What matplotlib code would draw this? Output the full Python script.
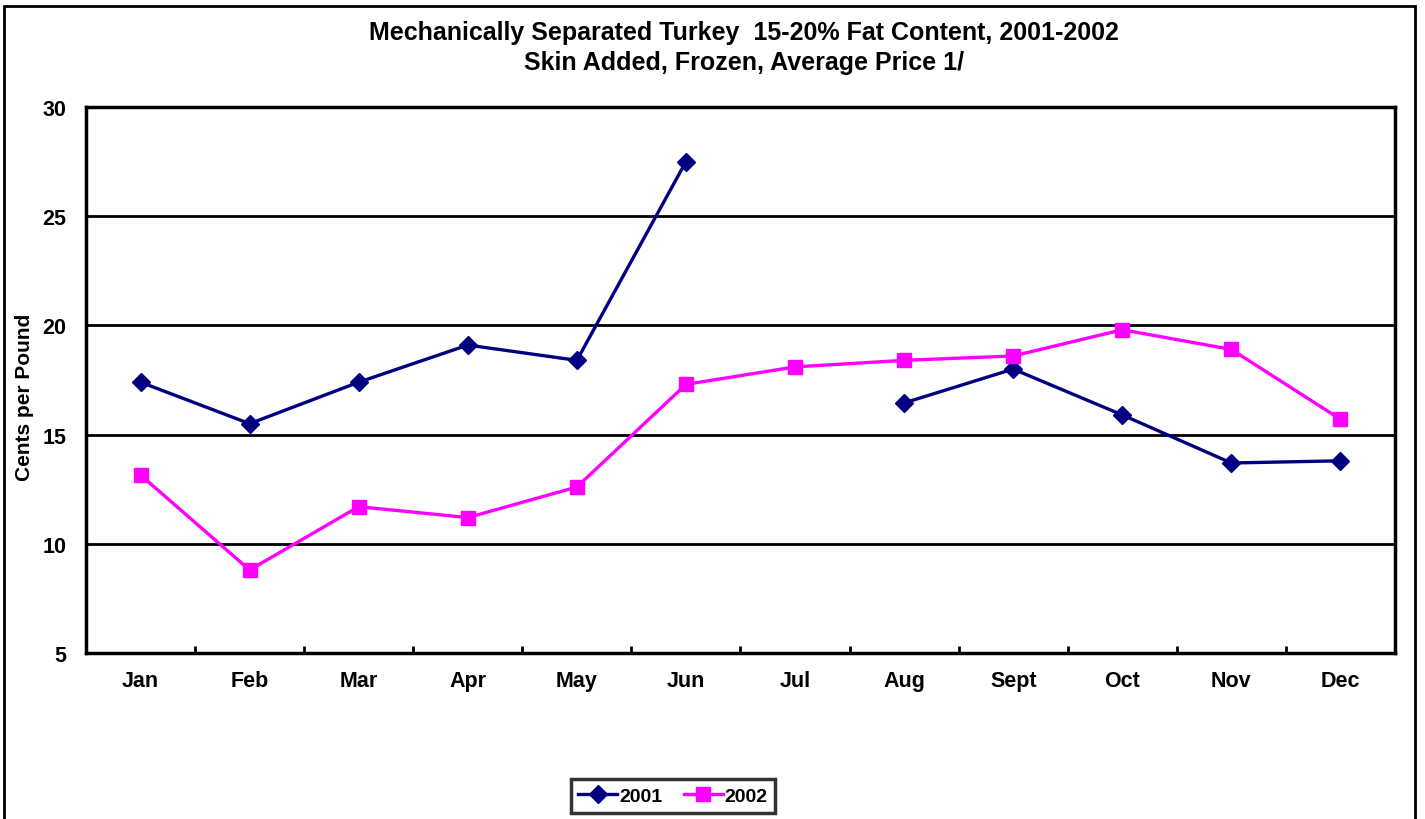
import numpy as np
import matplotlib.pyplot as plt
from matplotlib.patches import Rectangle

plt.rcParams['font.family'] = ['Liberation Sans', 'DejaVu Sans']

months = ['Jan', 'Feb', 'Mar', 'Apr', 'May', 'Jun', 'Jul', 'Aug', 'Sept', 'Oct', 'Nov', 'Dec']
price_2001 = [17.4, 15.5, 17.4, 19.1, 18.4, 27.5, np.nan, 16.45, 18.0, 15.9, 13.7, 13.8]
price_2002 = [13.15, 8.8, 11.7, 11.2, 12.6, 17.3, 18.1, 18.4, 18.6, 19.8, 18.9, 15.7]
y_ticks = [5, 10, 15, 20, 25, 30]

fig = plt.figure(figsize=(14.25, 8.2), dpi=100)
ax = fig.add_axes([86 / 1425, 166 / 820, 1309 / 1425, 546 / 820])

# outer chart border
fig.patches.append(Rectangle((4 / 1425, -0.05), 1411 / 1425, 1.05 - 7 / 820,
                             transform=fig.transFigure, fill=False,
                             edgecolor='black', linewidth=2))

x = np.arange(len(months))
ax.plot(x, price_2001, color='#000080', marker='D', markersize=9, linewidth=2.4,
        label='2001', zorder=3)
ax.plot(x, price_2002, color='#FF00FF', marker='s', markersize=9.5, linewidth=2.4,
        label='2002', zorder=3)

ax.set_xlim(-0.5, len(months) - 0.5)
ax.set_ylim(5, 30)
ax.set_yticks(y_ticks)
ax.set_yticklabels([str(t) for t in y_ticks], fontsize=15.5, fontweight='bold')
ax.tick_params(axis='y', length=0, pad=14)

ax.set_xticks(x)
ax.set_xticklabels(months, fontsize=15.5, fontweight='bold')
ax.tick_params(axis='x', length=0, pad=12.5)
# small category boundary ticks
ax.set_xticks(np.arange(0.5, len(months) - 1, 1), minor=True)
ax.tick_params(axis='x', which='minor', direction='in', length=5, width=2)

for yv in y_ticks[1:-1]:
    ax.axhline(yv, color='black', linewidth=2, zorder=1)
for s in ax.spines.values():
    s.set_linewidth(2.5)

fig.text(25 / 1425, 1 - 397 / 820, 'Cents per Pound', rotation=90,
         ha='center', va='center', fontsize=15, fontweight='bold')

fig.text(0.522, 1 - 33 / 820, 'Mechanically Separated Turkey  15-20% Fat Content, 2001-2002',
         ha='center', va='center', fontsize=18, fontweight='bold')
fig.text(0.522, 1 - 63 / 820, 'Skin Added, Frozen, Average Price 1/',
         ha='center', va='center', fontsize=18, fontweight='bold')

leg = fig.legend(loc='center', bbox_to_anchor=(673 / 1425, 1 - 797 / 820), ncol=2,
                 frameon=True, fancybox=False, edgecolor='black',
                 prop={'weight': 'bold', 'size': 14}, handlelength=2.0,
                 handletextpad=0.1, columnspacing=1.1, borderpad=0.4)
leg.get_frame().set_linewidth(2.5)

fig.savefig('out.png', dpi=100)
